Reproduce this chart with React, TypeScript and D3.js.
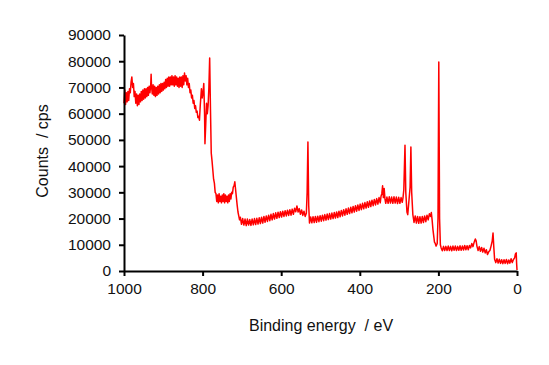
import { useEffect, useRef } from "react"
import * as d3 from "d3"

// survey spectrum as [binding energy eV, counts]
const highEnergyRegion: [number, number][] = [
  [1000, 64000], [998, 69000], [996, 63500], [994, 68000], [992, 64500], [990, 68500], [988, 65000], [986, 69500],
  [984, 68000], [982, 72000], [980, 74000], [978, 70000], [976, 71500], [974, 66500], [972, 68500], [970, 64000],
  [968, 67500], [966, 63000], [964, 67000], [962, 63500], [960, 67500], [958, 64500], [956, 68500], [954, 65000],
  [952, 69000], [950, 65500], [948, 69500], [946, 66000], [944, 69500], [942, 66500], [940, 70000], [938, 67000],
  [936, 70500], [934, 68000], [932, 71000], [931, 75000], [930, 70500], [928, 67500], [926, 71000], [924, 67000],
  [922, 70500], [920, 66500], [918, 70000], [916, 67000], [914, 70500], [912, 67500], [910, 71000], [908, 68000],
  [906, 71500], [904, 68500], [902, 71500], [900, 69000], [898, 72000], [896, 69500], [894, 73000], [892, 70000],
  [890, 73500], [888, 70500], [886, 74000], [884, 70500], [882, 74000], [880, 71000], [878, 74500], [876, 71000],
  [874, 74000], [872, 70500], [870, 74500], [868, 71000], [866, 74000], [864, 70500], [862, 73500], [860, 70000],
  [858, 74000], [856, 70500], [854, 74000], [852, 70000], [850, 74500], [848, 71000], [846, 75500], [844, 72500],
  [842, 74500], [840, 71000], [838, 73500], [836, 70000], [834, 71500], [832, 68000], [830, 69000], [828, 66000],
  [826, 67000], [824, 64000], [822, 65000], [820, 62000], [818, 63000], [816, 60500], [814, 61000], [812, 58500],
  [810, 59000], [808, 57500], [806, 63000], [803, 69500], [801, 66000], [799, 68000], [797, 71500], [795, 60000],
  [794, 48500], [792, 56000], [790, 64000], [788, 60000], [786, 63000], [784, 70000], [782, 81200], [780, 62000],
  [778, 45000], [776, 42000], [774, 38500], [772, 35000], [770, 33500], [768, 30000], [766, 29500], [764, 26500],
  [762, 29000], [760, 26000], [758, 29500], [756, 26500], [754, 28500], [752, 26000], [750, 29000], [748, 26500],
  [746, 29500], [744, 26000], [742, 29000], [740, 26500], [738, 28500], [736, 26000], [734, 29000], [732, 26500],
  [730, 29500], [728, 27500], [726, 30000], [724, 29500], [722, 32000], [720, 32500], [718, 34000], [716, 31000],
  [714, 28000], [712, 25000], [710, 22500], [708, 21000], [706, 19500], [704, 20500]
]

const midEnergyRegion: [number, number][] = [
  [701, 17800], [698, 20000], [695, 17500], [692, 19800], [689, 17300], [686, 19800], [683, 17500], [680, 19600],
  [677, 17400], [674, 19800], [671, 17600], [668, 20000], [665, 17700], [662, 20100], [659, 17900], [656, 20300],
  [653, 18100], [650, 20500], [647, 18300], [644, 20800], [641, 18600], [638, 21000], [635, 18900], [632, 21300],
  [629, 19200], [626, 21600], [623, 19500], [620, 21900], [617, 19800], [614, 22200], [611, 20100], [608, 22400],
  [605, 20400], [602, 22600], [599, 20600], [596, 22800], [593, 20800], [590, 23000], [587, 21000], [584, 23200],
  [581, 21200], [578, 23400], [575, 21300], [572, 23600], [569, 21600], [566, 23900], [563, 22600], [560, 24800],
  [557, 22500], [554, 23800], [551, 21600], [548, 23300], [545, 21200], [542, 22800], [539, 20800], [536, 22000],
  [534, 30000], [532, 49200], [530, 25000], [528, 18300], [525, 20600], [522, 18400], [519, 20700], [516, 18500],
  [513, 20800], [510, 18600], [507, 20900], [504, 18800], [501, 21100], [498, 19000], [495, 21300], [492, 19200],
  [489, 21500], [486, 19400], [483, 21700], [480, 19600], [477, 21900], [474, 19800], [471, 22100], [468, 20000],
  [465, 22300], [462, 20200], [459, 22500], [456, 20400], [453, 22800], [450, 20700], [447, 23100], [444, 21000],
  [441, 23400], [438, 21300], [435, 23700], [432, 21600], [429, 24000], [426, 21900], [423, 24300], [420, 22200],
  [417, 24600], [414, 22500], [411, 24900], [408, 22800], [405, 25200], [402, 23100], [399, 25500], [396, 23400],
  [393, 25800], [390, 23700], [387, 26100], [384, 24000], [381, 26400], [378, 24300], [375, 26700], [372, 24600],
  [369, 27000], [366, 24900], [363, 27300], [360, 25200], [357, 27600], [354, 25500], [351, 28000], [348, 26000],
  [346, 28500], [344, 29500], [342, 32500], [340, 28000], [338, 31500], [336, 27500], [334, 25800], [331, 28200],
  [328, 25800], [325, 28300], [322, 25900], [319, 28200], [316, 25800], [313, 28300], [310, 25900], [307, 28200],
  [304, 25700], [301, 28100], [298, 25800], [295, 28000], [292, 26200], [290, 28000], [288, 31000], [285, 48000],
  [283, 30000], [280, 22500], [278, 21500], [276, 25000], [272, 32000], [270, 47300], [268, 30000], [265, 21500],
  [262, 18500], [259, 21000], [256, 18300], [253, 20800], [250, 18200], [247, 20700], [244, 18300], [241, 20800],
  [238, 18500], [235, 21000], [232, 18800], [229, 21300], [226, 19500], [223, 21800], [220, 20800], [218, 22300],
  [216, 19500], [214, 16000], [212, 13500], [210, 11000], [208, 10500], [206, 9500], [203, 10500]
]

const lowEnergyRegion: [number, number][] = [
  [201, 20000], [199, 79700], [197, 20000], [195, 10000], [193, 8800], [190, 7700], [187, 9400], [184, 7800],
  [181, 9400], [178, 7800], [175, 9500], [172, 7800], [169, 9400], [166, 7700], [163, 9500], [160, 7900],
  [157, 9500], [154, 7800], [151, 9400], [148, 7900], [145, 9600], [142, 7900], [139, 9500], [136, 8000],
  [133, 9700], [130, 8100], [127, 9600], [124, 8100], [121, 9700], [118, 8800], [115, 10500], [112, 9300],
  [109, 11000], [106, 12200], [104, 11500], [102, 9500], [99, 7800], [96, 9300], [93, 7500], [90, 9000],
  [87, 7200], [84, 8700], [81, 6900], [78, 8100], [75, 6300], [72, 7300], [69, 7800], [66, 9500],
  [63, 11500], [61, 14500], [59, 9000], [57, 4500], [54, 3200], [51, 4700], [48, 3000], [45, 4500],
  [42, 2900], [39, 4300], [36, 2800], [33, 4300], [30, 2900], [27, 4400], [24, 2800], [21, 4200],
  [18, 3000], [15, 4700], [12, 3200], [9, 4400], [6, 5000], [4, 6500], [2, 6900], [1, 3000], [0, 400]
]

const xTicks = [1000, 800, 600, 400, 200, 0]
const yTicks = [0, 10000, 20000, 30000, 40000, 50000, 60000, 70000, 80000, 90000]

const W = 549
const H = 365
const margin = { top: 35, right: 32, bottom: 94, left: 124 }
const FONT = "Arial, 'Liberation Sans', sans-serif"

export default function App() {
  const svgRef = useRef<SVGSVGElement>(null)

  useEffect(() => {
    if (!svgRef.current) return
    const svg = d3.select(svgRef.current)
    svg.selectAll("*").remove()

    const width = W - margin.left - margin.right
    const height = H - margin.top - margin.bottom
    const g = svg.append("g").attr("transform", `translate(${margin.left},${margin.top})`)

    const x = d3.scaleLinear().domain([1000, 0]).range([0, width])
    const y = d3.scaleLinear().domain([0, 90000]).range([height, 0])

    const spectrum = [...highEnergyRegion, ...midEnergyRegion, ...lowEnergyRegion]

    const line = d3
      .line<[number, number]>()
      .x((d) => x(d[0]))
      .y((d) => y(d[1]))
      .curve(d3.curveLinear)

    g.append("path")
      .datum(spectrum)
      .attr("fill", "none")
      .attr("stroke", "#ff0000")
      .attr("stroke-width", 1.5)
      .attr("stroke-linejoin", "round")
      .attr("d", line)

    // y axis
    const yAxis = g
      .append("g")
      .call(d3.axisLeft(y).tickValues(yTicks).tickSize(5).tickSizeOuter(0).tickPadding(8).tickFormat(d3.format("d")))
    yAxis.select(".domain").attr("stroke", "#000").attr("stroke-width", 2)
    yAxis.selectAll(".tick line").attr("stroke", "#000").attr("stroke-width", 2)
    yAxis.selectAll("text").attr("fill", "#111").style("font-family", FONT).style("font-size", "15.5px")

    // x axis
    const xAxis = g
      .append("g")
      .attr("transform", `translate(0,${height})`)
      .call(d3.axisBottom(x).tickValues(xTicks).tickSize(5).tickSizeOuter(0).tickPadding(7).tickFormat(d3.format("d")))
    xAxis.select(".domain").attr("stroke", "#000").attr("stroke-width", 2)
    xAxis.selectAll(".tick line").attr("stroke", "#000").attr("stroke-width", 2)
    xAxis.selectAll("text").attr("fill", "#111").style("font-family", FONT).style("font-size", "15.5px")

    // axis titles
    svg.append("text")
      .attr("x", 321)
      .attr("y", 331)
      .attr("text-anchor", "middle")
      .attr("fill", "#111")
      .style("font-family", FONT)
      .style("font-size", "16px")
      .style("white-space", "pre")
      .text("Binding energy  / eV")

    svg.append("text")
      .attr("transform", "translate(48,151) rotate(-90)")
      .attr("text-anchor", "middle")
      .attr("fill", "#111")
      .style("font-family", FONT)
      .style("font-size", "16px")
      .style("white-space", "pre")
      .text("Counts  / cps")
  }, [])

  return (
    <div style={{ position: "absolute", left: 0, top: 0, width: W, height: H, background: "#fff" }}>
      <svg ref={svgRef} width={W} height={H} />
    </div>
  )
}
